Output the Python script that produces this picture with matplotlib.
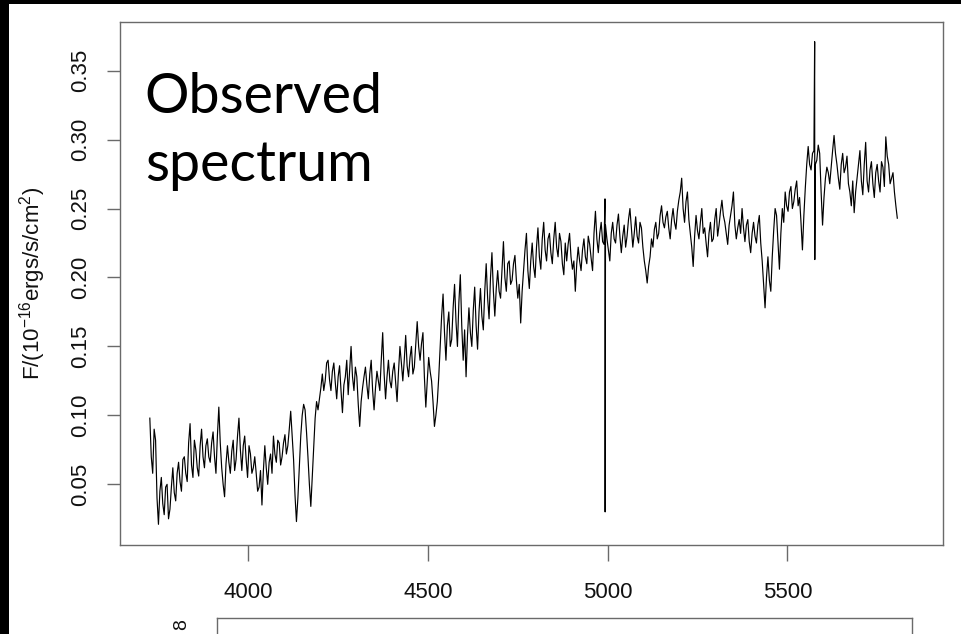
import numpy as np
import matplotlib
matplotlib.use("Agg")
import matplotlib.pyplot as plt
from matplotlib.patches import Rectangle

plt.rcParams['font.family'] = ['Liberation Sans', 'DejaVu Sans']
plt.rcParams['mathtext.fontset'] = 'custom'
plt.rcParams['mathtext.rm'] = 'Liberation Sans'
plt.rcParams['mathtext.it'] = 'Liberation Sans:italic'

# spectrum, one value every 8 A from 3726 A
wl_start = 3726
wl_step = 8
flux = [
    0.098, 0.058, 0.082, 0.021, 0.055, 0.028, 0.050, 0.032, 0.062, 0.038,
    0.066, 0.045, 0.070, 0.052, 0.094, 0.055, 0.075, 0.056, 0.090, 0.062,
    0.083, 0.066, 0.088, 0.058, 0.106, 0.062, 0.041, 0.078, 0.058, 0.082,
    0.068, 0.098, 0.060, 0.085, 0.055, 0.072, 0.062, 0.058, 0.048, 0.035,
    0.078, 0.050, 0.072, 0.085, 0.066, 0.080, 0.070, 0.086, 0.078, 0.103,
    0.068, 0.023, 0.062, 0.100, 0.104, 0.070, 0.034, 0.075, 0.110, 0.112,
    0.130, 0.125, 0.140, 0.118, 0.138, 0.112, 0.136, 0.102, 0.128, 0.115,
    0.150, 0.118, 0.128, 0.092, 0.120, 0.135, 0.112, 0.140, 0.104, 0.132,
    0.118, 0.160, 0.112, 0.140, 0.120, 0.138, 0.110, 0.150, 0.125, 0.158,
    0.128, 0.150, 0.135, 0.168, 0.140, 0.160, 0.106, 0.142, 0.125, 0.092,
    0.110, 0.150, 0.188, 0.140, 0.175, 0.155, 0.195, 0.150, 0.202, 0.140,
    0.128, 0.178, 0.150, 0.193, 0.148, 0.192, 0.162, 0.210, 0.170, 0.218,
    0.172, 0.205, 0.185, 0.226, 0.190, 0.212, 0.198, 0.216, 0.185, 0.167,
    0.205, 0.232, 0.192, 0.225, 0.200, 0.236, 0.206, 0.240, 0.212, 0.232,
    0.210, 0.240, 0.215, 0.226, 0.202, 0.212, 0.232, 0.206, 0.190, 0.222,
    0.205, 0.228, 0.210, 0.224, 0.205, 0.248, 0.218, 0.240, 0.224, 0.228,
    0.212, 0.240, 0.225, 0.246, 0.218, 0.238, 0.230, 0.250, 0.222, 0.244,
    0.225, 0.236, 0.212, 0.196, 0.215, 0.222, 0.240, 0.232, 0.252, 0.236,
    0.248, 0.228, 0.250, 0.235, 0.256, 0.272, 0.240, 0.262, 0.232, 0.208,
    0.245, 0.228, 0.250, 0.236, 0.215, 0.240, 0.228, 0.250, 0.238, 0.256,
    0.240, 0.224, 0.245, 0.262, 0.228, 0.242, 0.250, 0.226, 0.242, 0.218,
    0.240, 0.225, 0.245, 0.212, 0.178, 0.215, 0.190, 0.234, 0.245, 0.206,
    0.250, 0.262, 0.248, 0.266, 0.255, 0.270, 0.258, 0.220, 0.265, 0.295,
    0.278, 0.292, 0.285, 0.290, 0.238, 0.272, 0.276, 0.280, 0.303, 0.282,
    0.264, 0.290, 0.280, 0.268, 0.252, 0.247, 0.272, 0.292, 0.260, 0.298,
    0.262, 0.284, 0.258, 0.282, 0.262, 0.280, 0.302, 0.282, 0.272, 0.262,
    0.243,
]
# in-between samples, 4 A after each of the above
flux_mid = [
    0.070, 0.090, 0.040, 0.045, 0.036, 0.048, 0.025, 0.048, 0.044, 0.058,
    0.052, 0.068, 0.058, 0.080, 0.064, 0.082, 0.062, 0.078, 0.070, 0.078,
    0.070, 0.080, 0.070, 0.085, 0.080, 0.050, 0.065, 0.066, 0.074, 0.060,
    0.085, 0.075, 0.078, 0.068, 0.078, 0.058, 0.070, 0.045, 0.060, 0.060,
    0.062, 0.066, 0.058, 0.072, 0.082, 0.064, 0.080, 0.072, 0.090, 0.085,
    0.042, 0.040, 0.085, 0.108, 0.088, 0.050, 0.055, 0.098, 0.104, 0.120,
    0.118, 0.138, 0.126, 0.132, 0.124, 0.128, 0.118, 0.122, 0.140, 0.132,
    0.128, 0.135, 0.108, 0.110, 0.128, 0.122, 0.130, 0.118, 0.120, 0.125,
    0.140, 0.130, 0.128, 0.125, 0.132, 0.124, 0.132, 0.138, 0.140, 0.136,
    0.142, 0.130, 0.152, 0.150, 0.152, 0.128, 0.125, 0.132, 0.110, 0.100,
    0.128, 0.172, 0.160, 0.165, 0.150, 0.178, 0.168, 0.182, 0.165, 0.162,
    0.158, 0.160, 0.176, 0.165, 0.175, 0.172, 0.190, 0.185, 0.200, 0.190,
    0.192, 0.190, 0.206, 0.200, 0.210, 0.195, 0.210, 0.198, 0.195, 0.190,
    0.220, 0.205, 0.212, 0.208, 0.222, 0.215, 0.228, 0.220, 0.228, 0.218,
    0.228, 0.222, 0.232, 0.210, 0.225, 0.224, 0.215, 0.212, 0.210, 0.212,
    0.220, 0.215, 0.230, 0.214, 0.232, 0.228, 0.232, 0.226, 0.238, 0.220,
    0.232, 0.228, 0.238, 0.230, 0.230, 0.222, 0.242, 0.236, 0.232, 0.230,
    0.240, 0.222, 0.205, 0.208, 0.228, 0.235, 0.228, 0.245, 0.240, 0.244,
    0.236, 0.242, 0.240, 0.248, 0.262, 0.250, 0.255, 0.242, 0.222, 0.230,
    0.234, 0.240, 0.232, 0.225, 0.232, 0.226, 0.242, 0.230, 0.248, 0.245,
    0.232, 0.238, 0.252, 0.238, 0.236, 0.232, 0.236, 0.238, 0.226, 0.232,
    0.230, 0.238, 0.225, 0.195, 0.200, 0.198, 0.215, 0.250, 0.225, 0.232,
    0.240, 0.252, 0.262, 0.250, 0.264, 0.252, 0.240, 0.245, 0.282, 0.282,
    0.290, 0.282, 0.296, 0.262, 0.258, 0.280, 0.268, 0.292, 0.290, 0.272,
    0.282, 0.276, 0.288, 0.262, 0.270, 0.262, 0.282, 0.270, 0.282, 0.270,
    0.278, 0.268, 0.276, 0.270, 0.284, 0.266, 0.288, 0.268, 0.276, 0.252,
]
# narrow sky-line residuals
spike_wl = [4992.6, 4993.0, 5576.0, 5576.4]
spike_flux = [0.257, 0.030, 0.371, 0.213]

x_ticks = [4000, 4500, 5000, 5500]
y_ticks = [0.05, 0.10, 0.15, 0.20, 0.25, 0.30, 0.35]

wl = wl_start + wl_step * np.arange(len(flux))
wl_mid = wl_start + wl_step / 2 + wl_step * np.arange(len(flux_mid))
wl = np.concatenate([wl, wl_mid, spike_wl])
fl = np.concatenate([flux, flux_mid, spike_flux])
order = np.argsort(wl)
wl, fl = wl[order], fl[order]

W, H = 961, 634
fig = plt.figure(figsize=(W / 100, H / 100), dpi=100, facecolor='black')
fig.patches.append(Rectangle((9 / W, 0), 1, (H - 4) / H, transform=fig.transFigure,
                             facecolor='white', edgecolor='none', zorder=-10))

frame = '#6a6a6a'
ax = fig.add_axes([120 / W, (H - 545) / H, 823.3 / W, 523.3 / H])
ax.set_facecolor('white')
ax.plot(wl, fl, color='black', lw=0.85)
ax.set_xlim(3643, 5934)
ax.set_ylim(0.006, 0.3855)
ax.set_xticks(x_ticks)
ax.set_yticks(y_ticks)
ax.set_xticklabels([str(t) for t in x_ticks])
ax.set_yticklabels(['%.2f' % t for t in y_ticks])
for s in ax.spines.values():
    s.set_color(frame)
    s.set_linewidth(1.0)
ax.tick_params(axis='x', length=11.5, width=1.0, color=frame, pad=15,
               labelsize=16, labelcolor='#111111')
ax.tick_params(axis='y', length=9.5, width=1.0, color=frame, pad=11,
               labelsize=16, labelcolor='#111111', labelrotation=90)
for lab in ax.get_yticklabels():
    lab.set_va('center')

ax.set_ylabel(r'F/(10$^{-16}$ergs/s/cm$^2$)', fontsize=16, color='#111111')
ax.yaxis.set_label_coords(-0.087, 0.5)

ax.text(0.030, 0.8255, 'Observed', transform=ax.transAxes, fontsize=40,
        family=['Lato', 'DejaVu Sans'], va='baseline', ha='left')
ax.text(0.030, 0.6956, 'spectrum', transform=ax.transAxes, fontsize=40,
        family=['Lato', 'DejaVu Sans'], va='baseline', ha='left')

# top edge of the next panel, cut off by the slide
ax2 = fig.add_axes([217 / W, -70 / H, (912 - 217) / W, 86 / H])
ax2.set_xticks([])
ax2.set_yticks([])
for s in ax2.spines.values():
    s.set_color(frame)
    s.set_linewidth(1.0)
fig.text(182 / W, (H - 625) / H, '8', rotation=90, fontsize=14,
         ha='center', va='center', color='#111111')

fig.savefig('out.png', dpi=100, facecolor=fig.get_facecolor())
